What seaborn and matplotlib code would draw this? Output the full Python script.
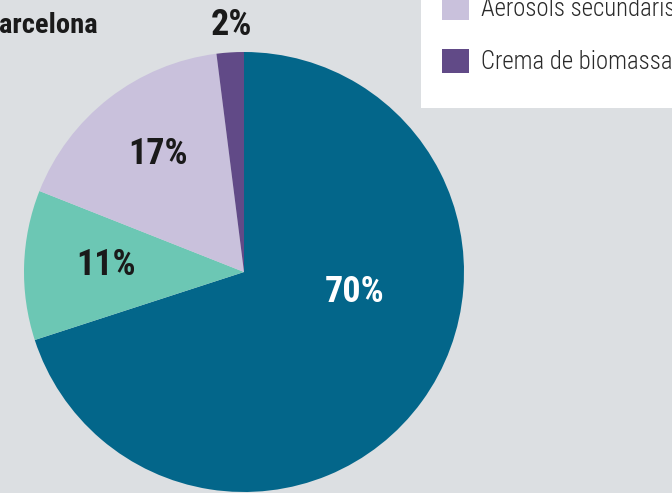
import matplotlib
matplotlib.use('Agg')
import matplotlib.pyplot as plt
from matplotlib.patches import Rectangle
import seaborn as sns

# 데이터
pct_labels = ['70%', '11%', '17%', '2%']
values = [70, 11, 17, 2]
legend_labels = ['Aerosols secundaris', 'Crema de biomassa']
colors = ['#03668a', '#6cc7b4', '#c9c1dc', '#614a87']
label_pos = [(355, 292), (106, 265), (158, 154), (231, 25)]   # px, from top
label_colors = ['white', '#1a1a1a', '#1a1a1a', '#1a1a1a']

sns.set_style('white')
plt.rcParams['font.family'] = ['Roboto Condensed', 'DejaVu Sans']

W, H = 672, 493
bg = '#dcdfe2'
fig = plt.figure(figsize=(W / 100, H / 100), dpi=100, facecolor=bg)
ax = fig.add_axes([0, 0, 1, 1])
ax.set_facecolor(bg)

# 파이 차트
wedges, _ = ax.pie(values, colors=colors, startangle=90, counterclock=False,
                   center=(244, H - 272), radius=220, frame=True,
                   wedgeprops=dict(linewidth=0))
ax.set_xlim(0, W)
ax.set_ylim(0, H)
ax.axis('off')

for txt, (x, y), c in zip(pct_labels, label_pos, label_colors):
    ax.text(x, H - y, txt, ha='center', va='center', fontsize=26,
            fontweight='bold', color=c)

# 제목 (잘린 부분)
ax.text(98, H - 33, 'Barcelona', ha='right', va='baseline', fontsize=20.5,
        fontweight='bold', color='#1a1a1a')

# 범례 박스
ax.add_patch(Rectangle((421, H - 108), 300, 200, facecolor='white',
                       edgecolor='none', zorder=3))
leg = fig.legend(handles=[wedges[2], wedges[3]], labels=legend_labels,
                 loc='upper left', bbox_to_anchor=(442 / W, (H + 4) / H),
                 frameon=False, borderpad=0, borderaxespad=0,
                 prop=dict(family='Roboto Condensed', weight=300, size=17.8),
                 handlelength=1.1, handleheight=1.1, handletextpad=0.48,
                 labelspacing=1.12, labelcolor='#2a2a2a')
leg.set_zorder(5)

fig.savefig('out.png', dpi=100, facecolor=bg)
